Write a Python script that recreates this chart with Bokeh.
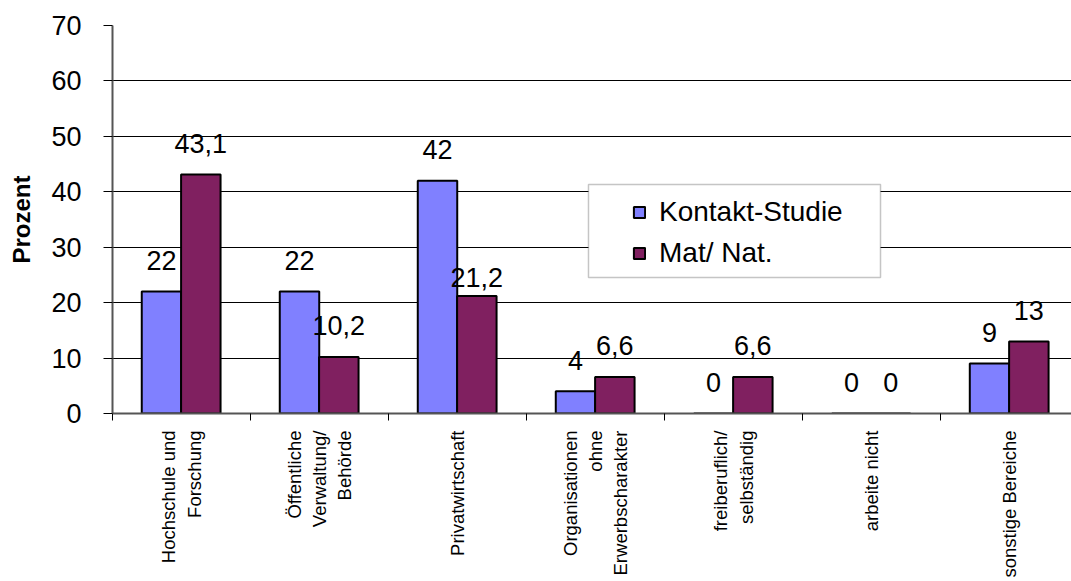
import numpy as np
from bokeh.plotting import figure
from bokeh.models import (ColumnDataSource, FixedTicker, Range1d, Legend, LegendItem,
                          BoxAnnotation)
from bokeh.core.properties import value
from bokeh.embed import file_html
from bokeh.resources import INLINE

categories = [
    "Hochschule und\nForschung",
    "Öffentliche\nVerwaltung/\nBehörde",
    "Privatwirtschaft",
    "Organisationen\nohne\nErwerbscharakter",
    "freiberuflich/\nselbständig",
    "arbeite nicht",
    "sonstige Bereiche",
]
kontakt = [22, 22, 42, 4, 0, 0, 9]
matnat = [43.1, 10.2, 21.2, 6.6, 6.6, 0, 13]
series_names = ["Kontakt-Studie", "Mat/ Nat."]
y_ticks = [0, 10, 20, 30, 40, 50, 60, 70]

# label placement style (pixels above bar top; one label was moved down in the original)
LABEL_GAP = -31
matnat_label_shift = [0, 0, 13, 0, 0, 0, 0]

FONT = "Liberation Sans"
BLUE = "#8080FF"
PURPLE = "#802060"

idx = np.arange(len(categories))
fmt = lambda v: f"{v:g}".replace(".", ",")

src_k = ColumnDataSource(dict(x=idx + 0.355, top=kontakt, lab=[fmt(v) for v in kontakt],
                              dy=[LABEL_GAP] * len(kontakt)))
src_m = ColumnDataSource(dict(x=idx + 0.64, top=matnat, lab=[fmt(v) for v in matnat],
                              dy=[LABEL_GAP + s for s in matnat_label_shift]))

p = figure(width=1071, height=581, output_backend="svg", toolbar_location=None,
           x_range=Range1d(0, 6.949), y_range=Range1d(0, 70),
           min_border_left=112, min_border_right=0, min_border_top=25,
           min_border_bottom=168)
p.outline_line_color = None
p.background_fill_color = "white"

# grid
p.xgrid.grid_line_color = None
p.ygrid.ticker = FixedTicker(ticks=y_ticks)
p.ygrid.grid_line_color = "black"
p.ygrid.grid_line_width = 1

# y axis
p.yaxis.ticker = FixedTicker(ticks=y_ticks)
p.yaxis.axis_label = "Prozent"
p.yaxis.axis_label_text_font = FONT
p.yaxis.axis_label_text_font_style = "bold"
p.yaxis.axis_label_text_font_size = "24px"
p.yaxis.axis_label_text_color = "black"
p.yaxis.axis_label_standoff = 13
p.yaxis.major_label_text_font = FONT
p.yaxis.major_label_text_font_size = "27px"
p.yaxis.major_label_text_color = "black"
p.yaxis.major_tick_out = 9
p.yaxis.major_tick_in = 0
p.yaxis.major_tick_line_color = "black"
p.yaxis.minor_tick_line_color = None
p.yaxis.major_label_standoff = 22
p.yaxis.axis_line_color = "#555555"
p.yaxis.axis_line_width = 2

# x axis
p.xaxis.ticker = FixedTicker(ticks=list(idx + 0.5), minor_ticks=list(range(len(categories) + 1)))
p.xaxis.major_label_overrides = {float(i + 0.5): c for i, c in enumerate(categories)}
p.xaxis.major_label_orientation = float(np.pi / 2)
p.xaxis.major_label_text_font = FONT
p.xaxis.major_label_text_font_size = "18.5px"
p.xaxis.major_label_text_color = "black"
p.xaxis.major_label_standoff = 10
p.xaxis.major_tick_out = 0
p.xaxis.major_tick_in = 0
p.xaxis.minor_tick_out = 7
p.xaxis.minor_tick_in = 0
p.xaxis.minor_tick_line_color = "black"
p.xaxis.axis_line_color = "#555555"
p.xaxis.axis_line_width = 2

# bars
r_k = p.vbar(x="x", top="top", width=0.286, source=src_k, fill_color=BLUE,
             line_color="black", line_width=2)
r_m = p.vbar(x="x", top="top", width=0.286, source=src_m, fill_color=PURPLE,
             line_color="black", line_width=2)

# value labels
for src in (src_k, src_m):
    p.text(x="x", y="top", text="lab", source=src, y_offset="dy",
           text_align="center", text_baseline="alphabetic",
           text_font=value(FONT), text_font_size="27px", text_color="black")

# legend box
box = BoxAnnotation(left=3.449, right=5.565, bottom=24.54, top=41.31,
                    fill_color="white", fill_alpha=1.0,
                    line_color="#404040", line_width=1.5, level="annotation")
p.add_layout(box)

legend = Legend(items=[LegendItem(label=series_names[0], renderers=[r_k]),
                       LegendItem(label=series_names[1], renderers=[r_m])],
                location=(520, 144), padding=10, spacing=9,
                glyph_width=14, glyph_height=14, label_standoff=13,
                label_height=30, label_text_font=FONT,
                label_text_font_size="28px", label_text_color="black",
                border_line_color=None, background_fill_alpha=0.0, margin=0)
p.add_layout(legend, "center")

open("out.html", "w").write(file_html(p, INLINE))
